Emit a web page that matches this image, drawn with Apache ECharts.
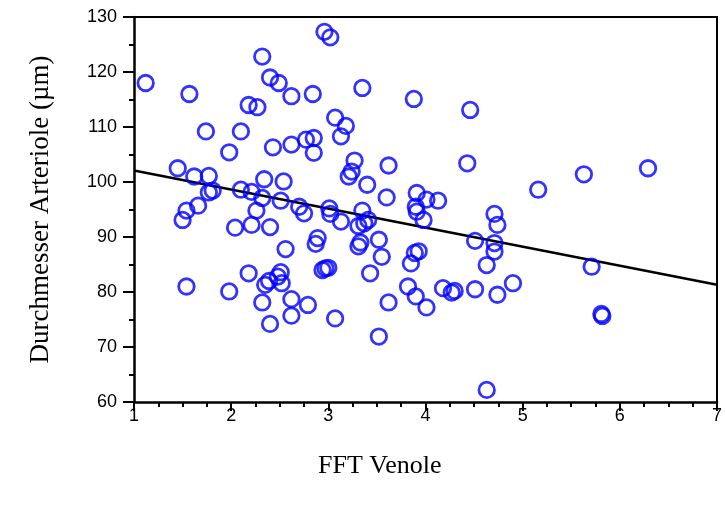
<!DOCTYPE html>
<html>
<head>
<meta charset="utf-8">
<script src="https://cdn.jsdelivr.net/npm/echarts@6/dist/echarts.min.js"></script>
<style>html,body{margin:0;padding:0;background:#fff;}#c{width:725px;height:506px;}</style>
</head>
<body>
<div id="c"></div>
<script>
const xValues = [1.12,1.57,2.32,2.40,2.49,2.62,2.18,2.27,1.74,2.10,2.43,2.62,1.98,2.84,2.77,2.85,2.85,2.96,3.02,3.35,3.88,4.46,3.07,3.18,3.13,3.27,3.24,3.21,3.62,4.43,3.40,5.16,5.63,6.29,1.45,1.62,1.77,1.77,1.81,2.34,2.54,2.10,2.21,2.32,2.51,1.66,1.54,1.50,2.26,2.04,2.21,2.40,2.56,3.60,3.91,4.01,4.13,3.90,3.91,3.98,2.70,2.75,3.01,3.02,3.13,3.35,3.41,3.37,3.31,2.89,2.87,3.33,3.31,3.52,3.55,3.93,3.89,3.85,4.71,4.74,4.51,4.71,4.71,4.63,5.71,1.54,1.98,2.18,2.35,2.39,2.48,2.51,2.52,2.32,2.62,2.62,2.40,2.94,2.97,3.00,3.43,2.79,3.07,3.62,3.82,3.90,4.01,3.52,4.18,4.27,4.30,4.51,4.74,4.90,5.81,5.82,4.63];
const yValues = [118.0,116.0,122.8,119.0,118.0,115.6,114.0,113.6,109.2,109.2,106.3,106.8,105.4,116.0,107.7,108.0,105.3,127.3,126.3,117.1,115.1,113.1,111.7,110.2,108.3,103.9,101.9,101.0,103.0,103.4,99.5,98.6,101.4,102.5,102.5,101.0,101.1,98.1,98.45,100.5,100.1,98.6,98.2,97.1,96.6,95.7,94.8,93.1,94.8,91.7,92.2,91.8,87.8,97.2,98.0,96.8,96.6,95.5,94.6,93.1,95.5,94.3,95.2,94.2,92.8,94.8,93.1,92.5,92.0,89.8,88.75,89.0,88.3,89.5,86.4,87.4,87.1,85.2,94.2,92.2,89.3,88.9,87.35,84.9,84.6,81.0,80.1,83.4,81.3,82.0,82.8,83.6,81.6,78.1,78.7,75.7,74.2,84.0,84.3,84.4,83.4,77.65,75.2,78.1,81.0,79.2,77.2,71.9,80.7,79.9,80.2,80.5,79.5,81.6,76.0,75.65,62.2];
const fitX = [1, 7];
const fitY = [102.1, 81.3];
const xTicks = [1,2,3,4,5,6,7];
const yTicks = [60,70,80,90,100,110,120,130];
const xTitle = 'FFT Venole';
const yTitle = 'Durchmesser Arteriole (µm)';

const chart = echarts.init(document.getElementById('c'), null, {renderer:'canvas'});
const scatterData = xValues.map((x,i)=>[x, yValues[i]]);
const fitData = fitX.map((x,i)=>[x, fitY[i]]);
const labelFont = {fontFamily:'Liberation Sans, Arial, sans-serif', fontSize:18, color:'#000'};
chart.setOption({
  animation:false,
  backgroundColor:'#fff',
  grid:{left:134, right:5, top:17, bottom:104, containLabel:false},
  graphic:[{
    type:'text', left:318, top:453,
    style:{text:xTitle, fill:'#000', font:'26px "Liberation Serif", "Times New Roman", serif'}
  }],
  xAxis:[{
    type:'value', min:xTicks[0], max:xTicks[xTicks.length-1], interval:1,
    axisLine:{show:true, onZero:false, lineStyle:{color:'#000', width:2.5}},
    axisTick:{show:true, inside:false, length:9, lineStyle:{color:'#000', width:2}},
    minorTick:{show:true, splitNumber:4, length:5, lineStyle:{color:'#000', width:2}},
    axisLabel:{...labelFont, margin:5},
    splitLine:{show:false}
  },{
    type:'value', position:'top', min:xTicks[0], max:xTicks[xTicks.length-1],
    axisLine:{show:true, onZero:false, lineStyle:{color:'#000', width:2}},
    axisTick:{show:false}, axisLabel:{show:false}, splitLine:{show:false}
  }],
  yAxis:[{
    type:'value', min:yTicks[0], max:yTicks[yTicks.length-1], interval:10,
    name:yTitle, nameLocation:'middle', nameGap:80, nameRotate:90,
    nameTextStyle:{fontFamily:'Liberation Serif, Times New Roman, serif', fontSize:27, color:'#000'},
    axisLine:{show:true, onZero:false, lineStyle:{color:'#000', width:2.5}},
    axisTick:{show:true, inside:false, length:11, lineStyle:{color:'#000', width:2}},
    minorTick:{show:true, splitNumber:2, length:5, lineStyle:{color:'#000', width:2}},
    axisLabel:{...labelFont, margin:17},
    splitLine:{show:false}
  },{
    type:'value', position:'right', min:yTicks[0], max:yTicks[yTicks.length-1],
    axisLine:{show:true, onZero:false, lineStyle:{color:'#000', width:2}},
    axisTick:{show:false}, axisLabel:{show:false}, splitLine:{show:false}
  }],
  series:[{
    type:'line', data:fitData, showSymbol:false, symbol:'none',
    lineStyle:{color:'#000', width:2.5}, z:1
  },{
    type:'scatter', data:scatterData, symbol:'circle', symbolSize:15.5,
    itemStyle:{color:'rgba(0,0,0,0)', borderColor:'#0000ff', borderWidth:2.8}, z:2
  }]
});
</script>
</body>
</html>
